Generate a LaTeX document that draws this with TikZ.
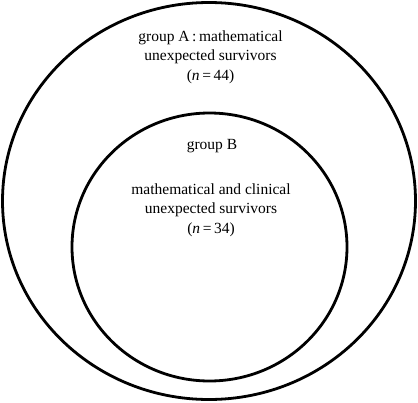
\documentclass[tikz,border=0pt]{standalone}
\usepackage{fontspec}
\setmainfont{Liberation Serif}

\begin{document}
\begin{tikzpicture}[x=1pt,y=1pt]
\useasboundingbox (0,0) rectangle (418,-402);
\coordinate (A) at (209,-201);
\coordinate (B) at (209.5,-247);
\draw[line width=2.8pt] (A) ellipse [x radius=206.5pt, y radius=198.5pt];
\draw[line width=2.8pt] (B) ellipse [x radius=137.5pt, y radius=134pt];
\node[style={align=center,font=\fontsize{15.5}{19.5}\selectfont}] (textA) at (210.5,-57) {group A\,:\,mathematical\\unexpected survivors\\(\textit{n}\,=\,44)};
\node[style={align=center,font=\fontsize{15.5}{19.5}\selectfont}] (labelB) at (212,-146) {group B};
\node[style={align=center,font=\fontsize{15.5}{19.5}\selectfont}] (textB) at (211,-210) {mathematical and clinical\\unexpected survivors\\(\textit{n}\,=\,34)};
\end{tikzpicture}
\end{document}
